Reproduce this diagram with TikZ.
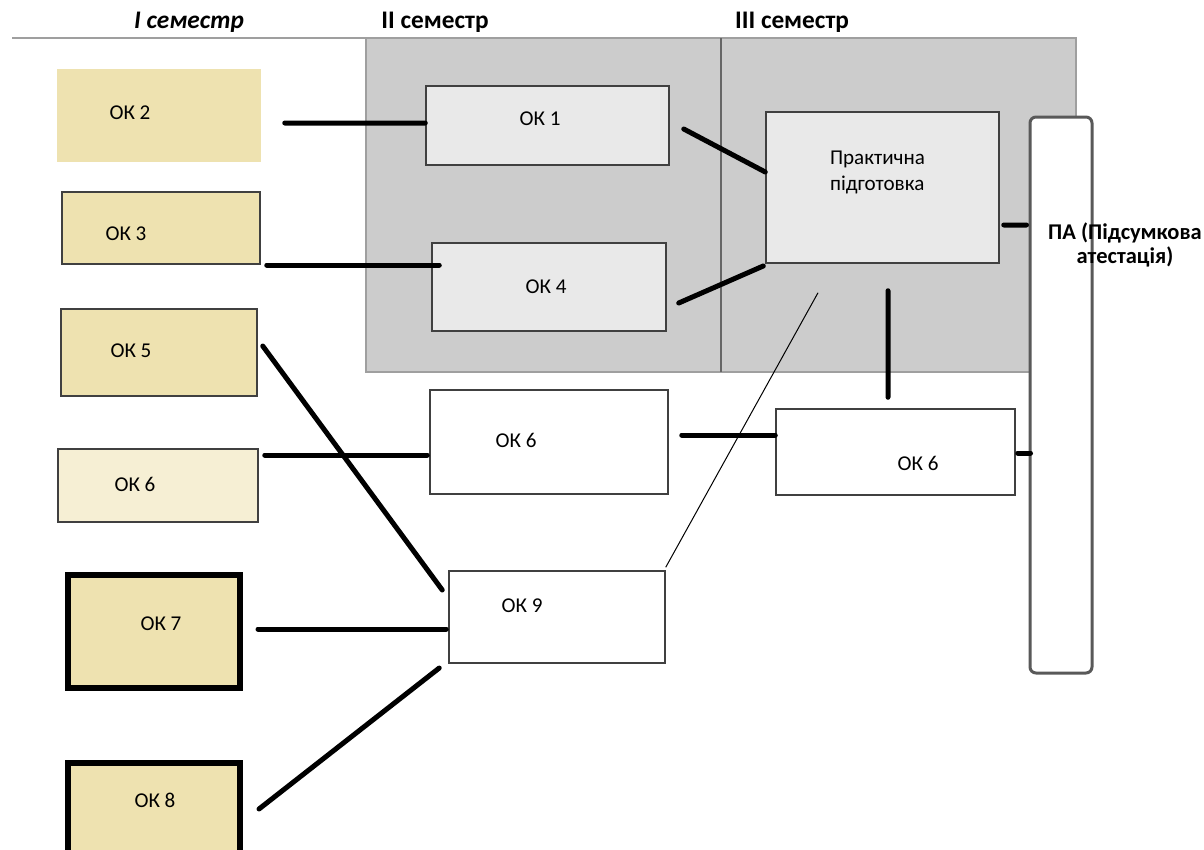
\documentclass[tikz,border=0pt]{standalone}
\usepackage{fontspec}
\setmainfont{Carlito}
\usetikzlibrary{calc}
\definecolor{khaki}{RGB}{238,226,176}
\definecolor{panelgray}{RGB}{204,204,204}
\definecolor{boxgray}{RGB}{233,233,233}
\newcommand{\pxu}{0.025cm}
\tikzset{
  basic/.style   = {draw=black!75, line width=1.5*\pxu, rectangle, inner sep=0pt},
  course/.style  = {basic, fill=khaki},
  heavy/.style   = {course, draw=black, line width=6*\pxu},
  module/.style  = {basic, fill=boxgray},
  plain/.style   = {basic, fill=white},
  dims/.style 2 args = {minimum width=#1*\pxu, minimum height=#2*\pxu},
  txt/.style n args = {3}{label={[xshift=#1*\pxu, yshift=-1*(#2)*\pxu]center:#3}},
  semester/.style   = {font=\fontsize{18}{21}\selectfont\bfseries},
  semesterit/.style = {font=\fontsize{18}{21}\selectfont\bfseries\itshape},
  link/.style = {line width=5*\pxu, line cap=round},
  thinlink/.style = {line width=1*\pxu}
}
\begin{document}
\begin{tikzpicture}[x=0.025cm, y=-0.025cm, font=\fontsize{15}{18}\selectfont]
\useasboundingbox (0,0) rectangle (1204,849);

% semester panels
\draw[gray!75, line width=2*\pxu] (12,38) -- (366,38);
\filldraw[fill=panelgray, draw=gray!75, line width=2*\pxu] (366,38) rectangle (1076,372);
\draw[black!60, line width=2*\pxu] (721,38) -- (721,372);

\node[semesterit] (sem1) at (189,22) {I семестр};
\node[semester] (sem2) at (435,22) {II семестр};
\node[semester] (sem3) at (792,22) {III семестр};

% I semester
\node[course, draw=none, dims={204}{93}, txt={-29}{-2.5}{ОК 2}] (ok2) at (159,115.5) {};
\node[course, dims={198}{72}, txt={-35}{6}{ОК 3}] (ok3) at (161,228) {};
\node[course, dims={196}{87}, txt={-28}{-1.5}{ОК 5}] (ok5) at (159,352.5) {};
\node[course, fill=khaki!55, dims={200}{73}, txt={-23}{-1.5}{ОК 6}] (ok6a) at (158,485.5) {};
\node[heavy, dims={172}{113}, txt={7.5}{-7}{ОК 7}] (ok7) at (153.5,631) {};
\node[heavy, dims={172}{92}, txt={1.5}{-8.5}{ОК 8}] (ok8) at (153.5,808.5) {};

% II semester
\node[module, dims={243}{79}, txt={-7.5}{-6.5}{ОК 1}] (ok1) at (547.5,125.5) {};
\node[module, dims={234}{88}, txt={-3}{0}{ОК 4}] (ok4) at (549,287) {};
\node[plain, dims={238}{104}, txt={-33}{-2}{ОК 6}] (ok6b) at (549,442) {};
\node[plain, dims={216}{92}, txt={-35}{-11}{ОК 9}] (ok9) at (557,617) {};

% III semester
\node[module, dims={233}{151},
  label={[xshift=-5*\pxu, yshift=15.5*\pxu, align=left, font=\fontsize{15}{18.5}\selectfont]center:Практична\\підготовка}] (prakt) at (882.5,187.5) {};
\node[plain, dims={239}{86}, txt={22.5}{11}{ОК 6}] (ok6c) at (895.5,452) {};

% final attestation
\node[plain, draw=black!65, line width=3*\pxu, rounded corners=6*\pxu, dims={62}{556},
  label={[xshift=64*\pxu, yshift=150*\pxu, align=center, font=\fontsize{16}{17.5}\selectfont\bfseries]center:ПА (Підсумкова\\атестація)}] (pa) at (1061,395) {};

% links
\draw[link] ($(ok2.east)+(23,7.5)$) -- ($(ok1.west)+(0,-2.5)$);
\draw[link] ($(ok3.east)+(6,37)$) -- ($(ok4.west)+(8,-22)$);
\draw[link] ($(ok5.east)+(5,-6.5)$) -- ($(ok9.west)+(-6,-27)$);
\draw[link] ($(ok6a.east)+(6,-30.5)$) -- ($(ok6b.west)+(-2,13)$);
\draw[link] ($(ok7.east)+(15.5,-2)$) -- ($(ok9.west)+(-2,12)$);
\draw[link] ($(ok8.east)+(16.5,0.5)$) -- ($(ok9.west)+(-9,51)$);
\draw[link] ($(ok1.east)+(14,3.5)$) -- ($(prakt.west)+(0,-15.5)$);
\draw[link] ($(ok4.east)+(12,16)$) -- ($(prakt.west)+(-2,78.5)$);
\draw[link] ($(prakt.east)+(4,37.5)$) -- ($(pa.west)+(-2,-170)$);
\draw[link] ($(prakt.south)+(5.5,27)$) -- ($(ok6c.north)+(-7.5,-11)$);
\draw[link] ($(ok6b.east)+(13,-7)$) -- ($(ok6c.west)+(0,-17)$);
\draw[link] ($(ok6c.east)+(2,1)$) -- ($(pa.west)+(2,58)$);
\draw[thinlink] ($(ok9.north east)+(0,-3)$) -- ($(prakt.south)+(-64.5,29)$);

\end{tikzpicture}
\end{document}
